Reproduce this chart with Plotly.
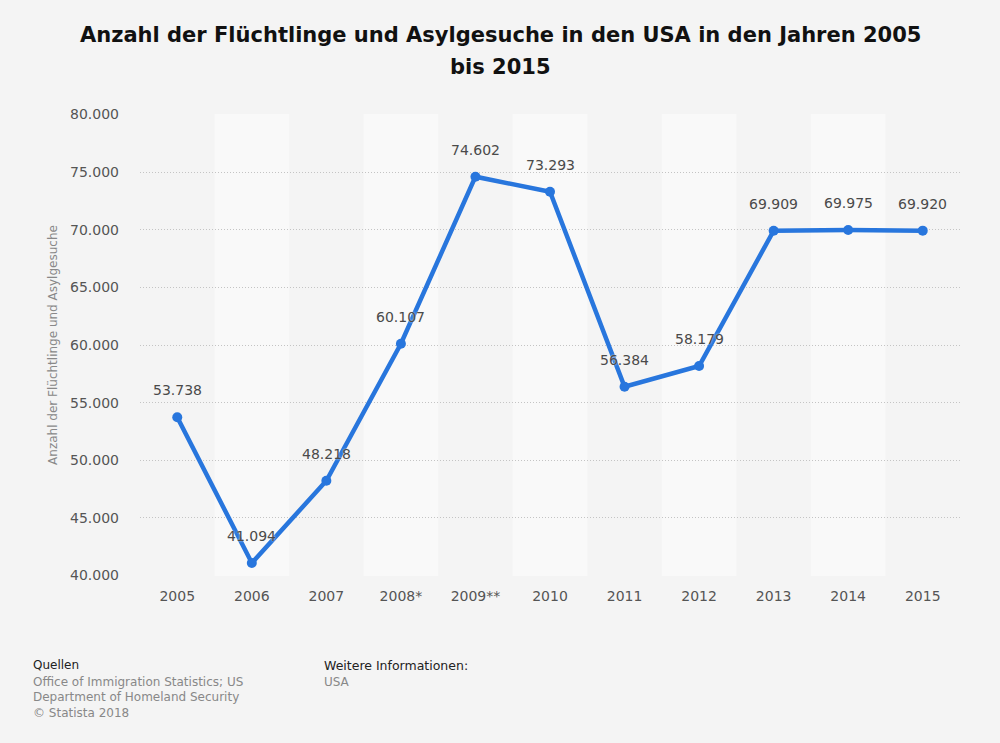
import plotly.graph_objects as go

years = ["2005", "2006", "2007", "2008*", "2009**", "2010", "2011", "2012", "2013", "2014", "2015"]
values = [53738, 41094, 48218, 60107, 74602, 73293, 56384, 58179, 69909, 69975, 69920]
y_ticks = [40000, 45000, 50000, 55000, 60000, 65000, 70000, 75000, 80000]

def fmt(v):
    return f"{v:,}".replace(",", ".")

FONT = "DejaVu Sans"
fig = go.Figure()

fig.add_trace(go.Scatter(
    x=list(range(len(years))), y=values, mode="lines+markers",
    line=dict(color="#2876dd", width=4.5),
    marker=dict(color="#2876dd", size=10),
    hoverinfo="skip",
))

shapes = []
for i in range(len(years)):
    if i % 2 == 1:
        shapes.append(dict(type="rect", xref="x", yref="paper", x0=i - 0.5, x1=i + 0.5,
                           y0=0, y1=1, fillcolor="#f9f9f9", line=dict(width=0), layer="below"))

annotations = []
for i, v in enumerate(values):
    annotations.append(dict(x=i, y=v, xref="x", yref="y", text=fmt(v), showarrow=False,
                            yshift=27, font=dict(family=FONT, size=14, color="#4a4a4a",
                                                 shadow="0px 0px 2px #f4f4f4")))

def px(xp, yp):
    return (xp - 140) / 820, (576 - yp) / 462

title_lines = [
    ("<b>Anzahl der Flüchtlinge und Asylgesuche in den USA in den Jahren 2005</b>", 500, 35),
    ("<b>bis 2015</b>", 500, 67),
]
for t, xp, yp in title_lines:
    xx, yy = px(xp, yp)
    annotations.append(dict(text=t, x=xx, y=yy, xref="paper", yref="paper", xanchor="center",
                            yanchor="middle", showarrow=False,
                            font=dict(family=FONT, size=21, color="#111111")))

footer = [
    ("Quellen", 31, 665, "#222222", 12),
    ("Office of Immigration Statistics; US", 31, 682, "#888888", 12),
    ("Department of Homeland Security", 31, 697, "#888888", 12),
    ("© Statista 2018", 31, 713, "#888888", 12),
    ("Weitere Informationen:", 322, 665, "#222222", 12.5),
    ("USA", 322, 682, "#888888", 12),
]
for t, xp, yp, c, s in footer:
    xx, yy = px(xp, yp)
    annotations.append(dict(text=t, x=xx, y=yy, xref="paper", yref="paper", xanchor="left",
                            yanchor="middle", showarrow=False, font=dict(family=FONT, size=s, color=c)))

fig.update_layout(
    width=1000, height=743,
    margin=dict(l=140, r=40, t=114, b=167),
    paper_bgcolor="#f4f4f4", plot_bgcolor="#f4f4f4",
    separators=",.",
    showlegend=False,
    shapes=shapes,
    annotations=annotations,
    xaxis=dict(tickmode="array", tickvals=list(range(len(years))), ticktext=years,
               range=[-0.5, len(years) - 0.5], showgrid=False, zeroline=False, showline=False,
               tickfont=dict(family=FONT, size=14, color="#555555"), ticks="", ticklabelstandoff=10),
    yaxis=dict(range=[39960, 80040], tickmode="array", tickvals=y_ticks,
               ticktext=[fmt(v) for v in y_ticks],
               showgrid=True, gridcolor="#c4c4c4", griddash="1px,2px", gridwidth=1,
               zeroline=False, showline=False, ticks="",
               tickfont=dict(family=FONT, size=14, color="#555555"), ticklabelstandoff=20,
               title=dict(text="Anzahl der Flüchtlinge und Asylgesuche", standoff=9,
                          font=dict(family=FONT, size=12, color="#888888"))),
)

fig.write_html("out.html", config={"displayModeBar": False},
               post_script="document.body.style.margin='0';")
